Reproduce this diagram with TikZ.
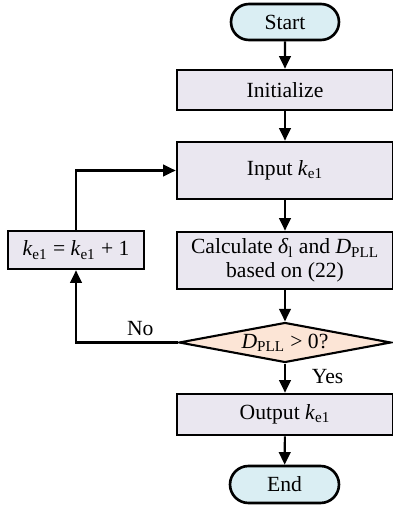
\documentclass[tikz,border=0pt]{standalone}
\usepackage{fontspec}
\setmainfont{Liberation Serif}
\usepackage{tikz}
\usetikzlibrary{shapes.geometric, shapes.misc, arrows.meta, positioning, calc}
\definecolor{termblue}{HTML}{DAEEF3}
\definecolor{proclav}{HTML}{EAE7F0}
\definecolor{decpeach}{HTML}{FCE5D6}
\tikzset{
  arr/.style={-{Triangle[length=0.25cm, width=0.23cm]}, line width=1.2pt, black},
  term/.style={rounded rectangle, draw=black, fill=termblue, line width=1.5pt, minimum width=2.16cm, minimum height=0.72cm, inner sep=0pt},
  procbox/.style={rectangle, draw=black, fill=proclav, line width=1.5pt, minimum width=4.32cm, align=center, inner sep=0pt},
  decide/.style={diamond, aspect=5.3, draw=black, fill=decpeach, line width=1.2pt, minimum width=4.24cm, minimum height=0.8cm, inner sep=0pt},
}
\newcommand{\kei}{\textit{k}\textsubscript{e1}}
\newcommand{\dpll}{\textit{D}\textsubscript{PLL}}

\begin{document}
\begin{tikzpicture}[font=\fontsize{12.3}{14.5}\selectfont]
  \useasboundingbox (0,0) rectangle (7.84,10.12);

  \node[term] (start) at (5.70,9.68) {Start};
  \node[procbox, minimum height=0.80cm] (init) at (5.70,8.32) {Initialize};
  \node[procbox, minimum height=1.14cm] (input) at (5.70,6.71) {Input \kei};
  \node[procbox, minimum height=1.14cm] (calc) at (5.70,4.91) {Calculate \textit{δ}\textsubscript{l} and \dpll\\[-1pt]based on (22)};
  \node[decide] (check) at (5.70,3.27) {\dpll{} > 0?};
  \node[procbox, minimum height=0.82cm] (output) at (5.70,1.83) {Output \kei};
  \node[term, minimum width=2.18cm, minimum height=0.74cm] (end) at (5.69,0.43) {End};
  \node[procbox, minimum width=2.72cm, minimum height=0.76cm] (incr) at (1.52,5.12) {\kei{} = \kei{} + 1};

  \coordinate (lowturn) at (incr.south |- check.west);
  \coordinate (topturn) at (incr.north |- input.west);

  \draw[arr] (start) -- (init);
  \draw[arr] (init) -- (input);
  \draw[arr] (input) -- (calc);
  \draw[arr] (calc) -- (check);
  \draw[arr] (check) -- node[right=0.4cm, pos=0.45] (yes) {Yes} (output);
  \draw[arr] (output) -- (end);
  \draw[arr] (check.west) -- node[above, pos=0.37] (no) {No} (lowturn) -- (incr.south);
  \draw[arr] (incr.north) -- (topturn) -- (input.west);
\end{tikzpicture}
\end{document}
